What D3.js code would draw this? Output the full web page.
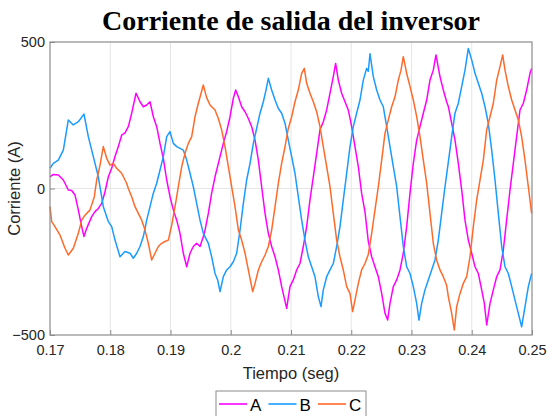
<!DOCTYPE html>
<html>
<head>
<meta charset="utf-8">
<script src="https://cdn.jsdelivr.net/npm/d3@7"></script>
<style>
	body { margin: 0; background: #fff; }
	text { font-family: "Liberation Sans", Arial, sans-serif; }
</style>
</head>
<body>
<script>
// Datos: tiempo en ms a partir de 0.17 s, corriente en A
var t0 = 0.17;

var tiempoA = [0,0.55,1.38,2.21,3.04,3.60,4.15,4.70,5.26,5.64,6.09,6.92,7.47,8.02,8.58,9.13,9.68,10.24,10.79,11.34,11.89,12.45,13.00,13.56,14.28,14.94,15.49,16.05,16.60,17.15,17.71,18.26,18.81,19.37,19.92,20.47,21.03,21.58,22.13,22.69,23.24,23.79,24.34,24.90,25.45,25.73,26.28,26.83,27.39,28.22,28.77,29.32,29.88,30.43,30.82,31.26,31.81,32.37,32.92,33.47,34.03,34.58,35.13,35.69,36.24,36.79,37.35,37.90,38.45,39.28,39.83,40.38,40.94,41.49,42.04,42.60,43.15,43.70,44.26,44.81,45.36,45.92,46.47,47.02,47.41,47.85,48.41,48.96,49.51,50.07,50.62,51.17,51.72,52.28,52.83,53.39,53.94,54.49,55.05,55.60,56.04,56.43,56.98,57.54,58.09,58.64,59.20,59.75,60.30,60.86,61.41,61.96,62.52,63.07,63.62,64.06,64.73,65.28,65.83,66.11,66.67,67.22,67.77,68.33,68.88,69.43,69.99,70.54,71.09,71.65,72.09,72.48,73.03,73.58,74.14,74.69,75.24,75.79,76.35,76.90,77.45,78.01,78.56,79.11,79.67,79.94];
var corrienteA = [40,48,46,29,-5,-7,-22,-73,-130,-164,-136,-96,-79,-68,-51,-11,40,69,109,143,182,190,211,257,325,296,279,285,296,245,211,154,103,29,-28,-73,-108,-153,-221,-267,-221,-198,-187,-198,-164,-142,-85,-16,40,109,154,194,245,308,336,313,279,262,239,211,165,97,6,-85,-153,-198,-233,-278,-335,-409,-335,-312,-278,-256,-198,-130,-39,40,120,200,228,268,325,382,427,370,325,296,268,211,143,75,-16,-80,-180,-233,-267,-301,-358,-426,-449,-392,-335,-312,-278,-221,-130,-16,86,165,211,257,302,370,404,456,382,336,296,280,222,165,86,-5,-108,-176,-221,-267,-290,-346,-392,-466,-392,-346,-301,-278,-210,-108,-5,86,177,268,291,336,393,410];

var tiempoB = [0,0.55,1.38,2.21,3.04,3.87,4.70,5.64,6.36,7.19,8.02,8.85,9.68,10.24,10.79,11.62,12.45,13.28,13.83,14.39,14.94,15.49,16.05,16.60,17.15,17.71,18.26,18.81,19.37,19.92,20.47,21.03,21.58,22.13,22.69,23.24,23.79,24.34,24.90,25.45,26.28,26.83,27.39,27.83,28.22,28.77,29.32,29.88,30.43,30.98,31.54,32.09,32.64,33.20,33.75,34.30,34.86,35.41,35.85,36.24,36.79,37.35,37.90,38.45,39.01,39.55,40.11,40.66,41.21,41.77,42.32,42.87,43.43,43.98,44.53,44.98,45.36,45.92,46.47,47.02,47.58,48.13,48.68,49.24,49.79,50.34,50.89,51.45,52.00,52.55,52.83,53.11,53.66,54.22,54.77,55.32,55.88,56.43,56.98,57.54,58.09,58.64,59.20,59.75,60.30,60.86,61.24,61.69,62.24,62.79,63.35,63.90,64.45,65.00,65.56,66.11,66.67,67.22,67.77,68.33,68.88,69.43,69.99,70.54,71.09,71.65,72.20,72.75,73.31,73.86,74.41,74.97,75.52,76.07,76.63,77.18,77.73,78.28,78.84,79.39,79.94];
var corrienteB = [69,86,97,131,234,217,228,254,177,109,40,-62,-113,-130,-176,-233,-215,-221,-238,-221,-198,-164,-108,-62,-16,18,63,109,177,194,154,143,137,131,97,52,6,-51,-108,-153,-187,-233,-290,-312,-352,-301,-278,-267,-250,-221,-142,-51,29,86,154,205,257,296,336,376,336,302,273,257,222,165,109,52,-28,-108,-176,-233,-267,-301,-369,-403,-346,-301,-278,-256,-198,-130,-39,52,143,211,257,302,370,410,400,460,382,336,302,279,211,143,75,6,-96,-198,-267,-290,-335,-392,-449,-392,-346,-312,-278,-244,-176,-85,6,90,177,257,291,348,404,478,439,393,359,325,279,222,131,29,-85,-198,-267,-290,-335,-381,-426,-472,-403,-335,-290];

var tiempoC = [0,0.28,0.83,1.66,2.49,3.04,3.87,4.70,5.26,5.81,6.64,7.36,7.75,8.30,8.85,9.41,9.96,10.51,11.06,11.89,12.72,13.00,13.56,14.11,14.66,15.22,15.77,16.32,16.88,17.43,17.98,18.54,19.09,19.64,20.20,20.75,21.30,21.86,22.41,22.96,23.52,24.07,24.62,25.45,26.00,26.56,27.39,27.94,28.49,29.05,29.60,30.15,30.71,31.26,31.81,32.37,32.92,33.64,34.03,34.58,35.13,35.69,36.24,36.79,37.35,37.90,38.45,39.01,39.55,40.11,40.66,41.21,41.77,42.21,42.60,43.15,43.70,44.26,44.81,45.36,45.92,46.47,47.02,47.58,48.13,48.68,49.24,49.79,50.23,50.62,51.17,51.72,52.28,52.83,53.39,53.94,54.49,55.05,55.60,56.15,56.71,57.26,57.81,58.26,58.64,59.20,59.75,60.30,60.86,61.41,61.96,62.52,63.07,63.62,64.17,64.73,65.28,65.83,66.11,66.67,67.11,67.50,68.05,68.60,69.16,69.71,70.26,70.82,71.37,71.92,72.48,73.03,73.58,74.14,74.69,75.13,75.52,76.07,76.63,77.18,77.73,78.28,78.84,79.39,79.94];
var corrienteC = [-62,-113,-130,-159,-204,-227,-204,-153,-108,-91,-73,-28,29,80,143,103,80,86,69,52,18,0,-28,-62,-85,-108,-142,-187,-244,-221,-198,-187,-181,-176,-125,-62,6,75,120,154,177,245,291,353,310,285,268,239,200,143,75,6,-62,-142,-176,-221,-278,-352,-324,-278,-250,-227,-198,-142,-62,18,86,143,205,245,296,336,393,410,359,325,296,262,211,143,75,6,-85,-176,-233,-278,-335,-358,-420,-381,-324,-278,-256,-225,-153,-73,6,97,188,234,279,313,370,404,450,393,348,302,245,177,97,18,-85,-187,-244,-278,-301,-330,-369,-426,-483,-403,-358,-324,-301,-233,-130,-39,29,97,200,245,291,370,416,456,404,348,302,268,234,177,97,6,-85];

var nombresFases = ["A", "B", "C"];
var coresFases = ["#ff00ff", "#1a9bff", "#ff6a2a"];
var ticksX = [0.17, 0.18, 0.19, 0.2, 0.21, 0.22, 0.23, 0.24, 0.25];
var ticksY = [-500, 0, 500];

var width = 548;
var height = 416;
var margem = {top: 42, left: 50, right: 16, bottom: 81};

var svgTag = d3.select("body").append("svg")
	.attr("width", width)
	.attr("height", height);

var x = d3.scaleLinear().domain([0.17, 0.25]).range([margem.left, width - margem.right]);
var y = d3.scaleLinear().domain([-500, 500]).range([height - margem.bottom, margem.top]);

// grade
svgTag.append("g").selectAll("line")
	.data(ticksX.slice(1, -1)).enter().append("line")
	.attr("x1", d => x(d)).attr("x2", d => x(d))
	.attr("y1", y(500)).attr("y2", y(-500))
	.attr("stroke", "#e6e6e6").attr("stroke-width", 1);
svgTag.append("line")
	.attr("x1", x(0.17)).attr("x2", x(0.25))
	.attr("y1", y(0)).attr("y2", y(0))
	.attr("stroke", "#e6e6e6").attr("stroke-width", 1);

// series
var series = [
	{tiempo: tiempoA, valor: corrienteA},
	{tiempo: tiempoB, valor: corrienteB},
	{tiempo: tiempoC, valor: corrienteC}
];
var linea = d3.line()
	.x(d => x(d[0]))
	.y(d => y(d[1]));
series.forEach(function(s, i) {
	var pontos = s.tiempo.map((ms, j) => [t0 + ms / 1000, s.valor[j]]);
	svgTag.append("path")
		.datum(pontos)
		.attr("fill", "none")
		.attr("stroke", coresFases[i])
		.attr("stroke-width", 1.5)
		.attr("stroke-linejoin", "round")
		.attr("d", linea);
});

// ejes
var ejeX = d3.axisBottom(x).tickValues(ticksX).tickFormat(d3.format("")).tickSizeInner(-5).tickSizeOuter(0).tickPadding(10);
var ejeY = d3.axisLeft(y).tickValues(ticksY).tickSizeInner(-5).tickSizeOuter(0).tickPadding(5);
var gX = svgTag.append("g").attr("transform", "translate(0," + y(-500) + ")").call(ejeX);
var gY = svgTag.append("g").attr("transform", "translate(" + x(0.17) + ",0)").call(ejeY);
[gX, gY].forEach(function(g) {
	g.select(".domain").remove();
	g.selectAll("line").attr("stroke", "#8c8c8c");
	g.selectAll("text").attr("fill", "#262626").style("font-size", "14.5px");
});
gX.selectAll("text").attr("dy", "0.71em");

// caja
svgTag.append("rect")
	.attr("x", x(0.17)).attr("y", y(500))
	.attr("width", x(0.25) - x(0.17)).attr("height", y(-500) - y(500))
	.attr("fill", "none").attr("stroke", "#8c8c8c").attr("stroke-width", 1.2);

// títulos
svgTag.append("text")
	.attr("x", (x(0.17) + x(0.25)) / 2).attr("y", 30)
	.attr("text-anchor", "middle")
	.style("font-family", "'Liberation Serif', 'Times New Roman', serif")
	.style("font-weight", "bold").style("font-size", "28px")
	.attr("fill", "#000")
	.text("Corriente de salida del inversor");
svgTag.append("text")
	.attr("x", (x(0.17) + x(0.25)) / 2).attr("y", 379)
	.attr("text-anchor", "middle")
	.style("font-size", "16.5px").attr("fill", "#262626")
	.text("Tiempo (seg)");
svgTag.append("text")
	.attr("transform", "translate(20," + y(0) + ") rotate(-90)")
	.attr("text-anchor", "middle")
	.style("font-size", "16.5px").attr("fill", "#262626")
	.text("Corriente (A)");

// leyenda
var legenda = svgTag.append("g").attr("transform", "translate(216,391)");
legenda.append("rect")
	.attr("width", 150).attr("height", 30)
	.attr("fill", "#fff").attr("stroke", "#8c8c8c").attr("stroke-width", 1);
nombresFases.forEach(function(nome, i) {
	var item = legenda.append("g").attr("transform", "translate(" + (3 + i * 49.5) + ",0)");
	item.append("line")
		.attr("x1", 0).attr("x2", 28).attr("y1", 13).attr("y2", 13)
		.attr("stroke", coresFases[i]).attr("stroke-width", 1.6);
	item.append("text")
		.attr("x", 31).attr("y", 20)
		.style("font-size", "17px").attr("fill", "#000")
		.text(nome);
});
</script>
</body>
</html>
